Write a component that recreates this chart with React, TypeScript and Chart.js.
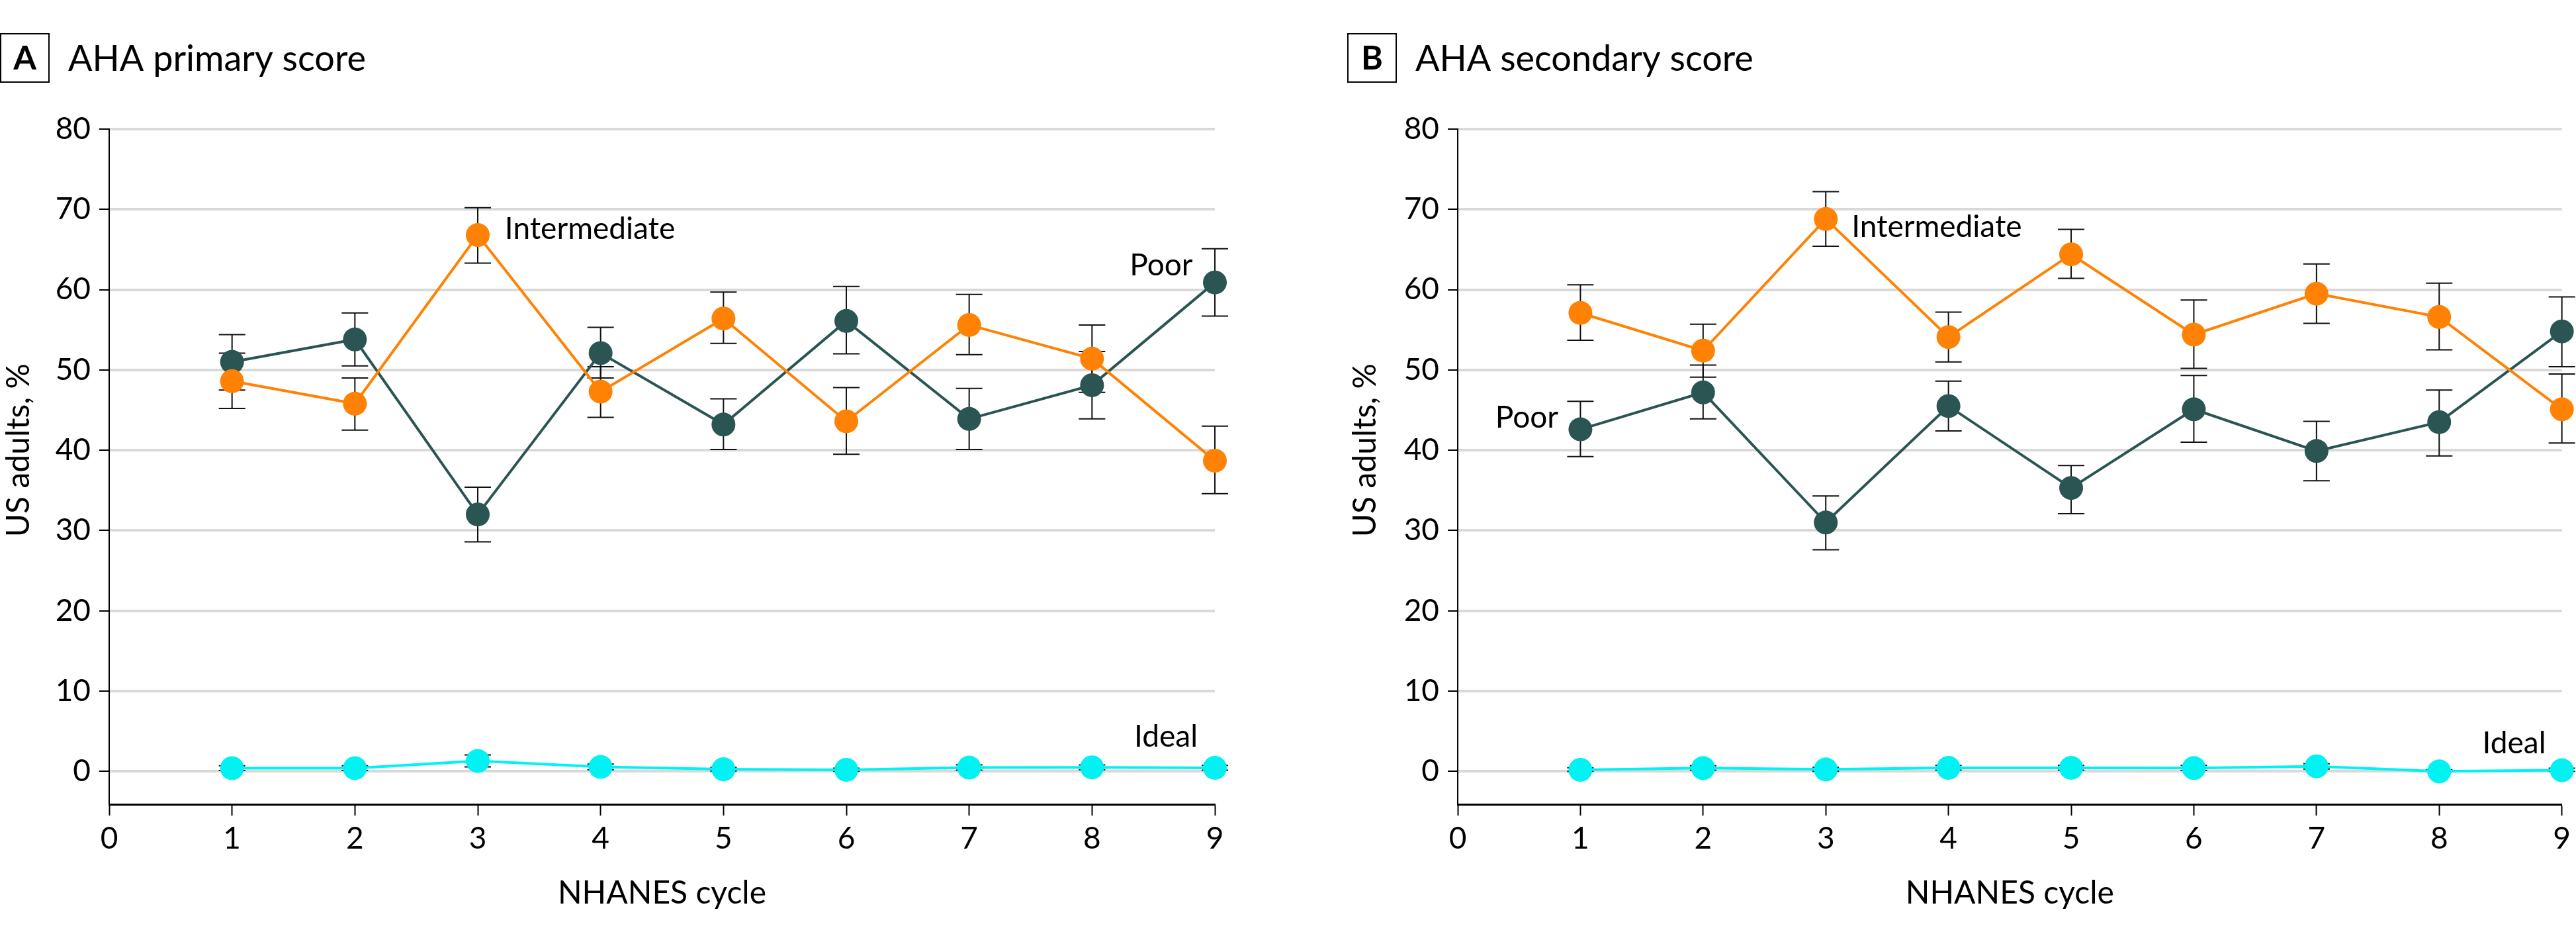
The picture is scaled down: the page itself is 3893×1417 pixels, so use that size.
import React, { useEffect, useRef } from 'react';
import { Chart, registerables } from 'chart.js';

Chart.register(...registerables);

// ---------- data ----------
const cycles = [1, 2, 3, 4, 5, 6, 7, 8, 9];
const xTickValues = [0, 1, 2, 3, 4, 5, 6, 7, 8, 9];
const yTickValues = [0, 10, 20, 30, 40, 50, 60, 70, 80];

// Panel A: AHA primary score
const poorA = [51.0, 53.8, 32.0, 52.1, 43.2, 56.1, 43.9, 48.1, 60.9];
const poorALo = [47.5, 50.5, 28.6, 49.0, 40.1, 52.0, 40.1, 43.9, 56.7];
const poorAHi = [54.4, 57.1, 35.4, 55.3, 46.4, 60.4, 47.7, 52.3, 65.1];
const interA = [48.6, 45.8, 66.8, 47.3, 56.4, 43.6, 55.6, 51.4, 38.7];
const interALo = [45.2, 42.5, 63.3, 44.1, 53.3, 39.5, 51.9, 47.2, 34.6];
const interAHi = [52.1, 49.0, 70.2, 50.4, 59.7, 47.8, 59.4, 55.6, 43.0];
const idealA = [0.4, 0.4, 1.3, 0.55, 0.27, 0.19, 0.47, 0.5, 0.44];
const idealALo = [0.1, 0.1, 0.55, 0.2, 0.05, 0.0, 0.15, 0.2, 0.15];
const idealAHi = [0.7, 0.7, 2.05, 0.9, 0.5, 0.4, 0.8, 0.8, 0.75];

// Panel B: AHA secondary score
const poorB = [42.6, 47.2, 31.0, 45.5, 35.3, 45.1, 39.9, 43.5, 54.8];
const poorBLo = [39.2, 43.9, 27.6, 42.4, 32.1, 41.0, 36.2, 39.3, 50.4];
const poorBHi = [46.1, 50.6, 34.3, 48.6, 38.1, 49.3, 43.6, 47.5, 59.1];
const interB = [57.1, 52.4, 68.8, 54.1, 64.4, 54.4, 59.5, 56.6, 45.1];
const interBLo = [53.7, 49.1, 65.4, 51.0, 61.4, 50.2, 55.8, 52.5, 40.9];
const interBHi = [60.6, 55.7, 72.2, 57.2, 67.5, 58.7, 63.2, 60.8, 49.5];
const idealB = [0.19, 0.41, 0.24, 0.44, 0.44, 0.41, 0.63, 0.0, 0.14];
const idealBLo = [0.0, 0.15, 0.0, 0.15, 0.15, 0.1, 0.3, 0.0, 0.0];
const idealBHi = [0.45, 0.7, 0.5, 0.75, 0.75, 0.75, 0.95, 0.2, 0.4];

// series labels (text, x, y in data units, alignment)
const labelsA = [
  { text: 'Intermediate', x: 3.22, y: 67.5, align: 'left' },
  { text: 'Poor', x: 8.82, y: 63.0, align: 'right' },
  { text: 'Ideal', x: 8.86, y: 4.3, align: 'right' },
];
const labelsB = [
  { text: 'Intermediate', x: 3.21, y: 67.8, align: 'left' },
  { text: 'Poor', x: 0.82, y: 44.0, align: 'right' },
  { text: 'Ideal', x: 8.87, y: 3.5, align: 'right' },
];

const COLOR_POOR = '#2a5553';
const COLOR_INTER = '#ff8204';
const COLOR_IDEAL = '#00f2f2';
const FONT = 'Lato, "Open Sans", "Noto Sans", sans-serif';

const H = 1417;

function makeDataset(label: string, vals: number[], lo: number[], hi: number[], color: string) {
  return {
    label,
    data: cycles.map((c, i) => ({ x: c, y: vals[i] })),
    errLo: lo,
    errHi: hi,
    borderColor: color,
    backgroundColor: color,
    pointBackgroundColor: color,
    pointBorderColor: color,
    pointRadius: 18,
    pointBorderWidth: 0,
    borderWidth: 4,
    tension: 0,
    clip: false,
  };
}

const errorBarPlugin = {
  id: 'errorBars',
  beforeDatasetsDraw(chart: any) {
    const ctx = chart.ctx;
    const xs = chart.scales.x;
    const ys = chart.scales.y;
    ctx.save();
    ctx.strokeStyle = '#111';
    ctx.lineWidth = 2;
    chart.data.datasets.forEach((ds: any) => {
      if (!ds.errLo) return;
      cycles.forEach((c, i) => {
        const x = xs.getPixelForValue(c);
        const y1 = ys.getPixelForValue(ds.errLo[i]);
        const y2 = ys.getPixelForValue(ds.errHi[i]);
        ctx.beginPath();
        ctx.moveTo(x, y1);
        ctx.lineTo(x, y2);
        ctx.moveTo(x - 20, y1);
        ctx.lineTo(x + 20, y1);
        ctx.moveTo(x - 20, y2);
        ctx.lineTo(x + 20, y2);
        ctx.stroke();
      });
    });
    ctx.restore();
  },
};

const decorPlugin = {
  id: 'decor',
  afterDraw(chart: any) {
    const o = chart.options.plugins.decor;
    const ctx = chart.ctx;
    const xs = chart.scales.x;
    const ys = chart.scales.y;
    ctx.save();
    // panel letter box
    ctx.strokeStyle = '#000';
    ctx.lineWidth = 2;
    ctx.strokeRect(1, 51, 73, 73);
    ctx.fillStyle = '#000';
    ctx.textAlign = 'center';
    ctx.textBaseline = 'alphabetic';
    ctx.font = `bold 50px ${FONT}`;
    ctx.fillText(o.letter, 37.5, 105);
    // panel title
    ctx.textAlign = 'left';
    ctx.font = `54px ${FONT}`;
    ctx.fillText(o.title, 103, 107);
    // y axis title
    ctx.save();
    ctx.font = `48px ${FONT}`;
    ctx.textAlign = 'center';
    ctx.textBaseline = 'middle';
    const yMid = (ys.getPixelForValue(0) + ys.getPixelForValue(80)) / 2;
    ctx.translate(o.yTitleX, yMid);
    ctx.rotate(-Math.PI / 2);
    ctx.fillText('US adults, %', 0, 0);
    ctx.restore();
    // x axis title
    ctx.font = `48px ${FONT}`;
    ctx.textAlign = 'center';
    ctx.textBaseline = 'middle';
    ctx.fillText('NHANES cycle', (xs.left + xs.right) / 2, 1350);
    // series labels
    ctx.font = `46px ${FONT}`;
    o.labels.forEach((l: any) => {
      ctx.textAlign = l.align;
      ctx.textBaseline = 'middle';
      ctx.fillText(l.text, xs.getPixelForValue(l.x), ys.getPixelForValue(l.y));
    });
    ctx.restore();
  },
};

type PanelProps = {
  left: number;
  width: number;
  yAxisWidth: number;
  padRight: number;
  letter: string;
  title: string;
  yTitleX: number;
  datasets: any[];
  labels: any[];
};

function Panel(p: PanelProps) {
  const ref = useRef<HTMLCanvasElement | null>(null);
  useEffect(() => {
    if (!ref.current) return;
    const chart = new Chart(ref.current, {
      type: 'line',
      data: { datasets: p.datasets },
      plugins: [errorBarPlugin, decorPlugin],
      options: {
        responsive: false,
        animation: false,
        layout: { padding: { top: 195, left: 0, right: p.padRight, bottom: 0 } },
        plugins: {
          legend: { display: false },
          tooltip: { enabled: false },
          decor: { letter: p.letter, title: p.title, labels: p.labels, yTitleX: p.yTitleX },
        } as any,
        scales: {
          x: {
            type: 'linear',
            min: 0,
            max: 9,
            afterBuildTicks: (s: any) => {
              s.ticks = xTickValues.map((v) => ({ value: v }));
            },
            afterFit: (s: any) => {
              s.height = H - 1215;
            },
            grid: {
              drawOnChartArea: false,
              drawTicks: true,
              tickLength: 17,
              tickColor: '#000',
              tickWidth: 2,
            },
            border: { display: true, color: '#000', width: 3 },
            ticks: {
              color: '#000',
              font: { family: FONT, size: 46 },
              padding: 8,
              maxRotation: 0,
              autoSkip: false,
            },
          },
          y: {
            type: 'linear',
            min: -4.1,
            max: 80,
            afterBuildTicks: (s: any) => {
              s.ticks = yTickValues.map((v) => ({ value: v }));
            },
            afterFit: (s: any) => {
              s.width = p.yAxisWidth;
            },
            grid: {
              color: '#d9d9d9',
              lineWidth: 4,
              drawTicks: true,
              tickLength: 15,
              tickColor: '#000',
              tickWidth: 2,
            },
            border: { display: true, color: '#000', width: 2 },
            ticks: {
              color: '#000',
              font: { family: FONT, size: 46 },
              padding: 13,
              autoSkip: false,
            },
          },
        },
      } as any,
    });
    return () => chart.destroy();
  }, []);
  return (
    <canvas
      ref={ref}
      width={p.width}
      height={H}
      style={{ position: 'absolute', left: p.left, top: 0, width: p.width, height: H, display: 'block' }}
    />
  );
}

export default function App() {
  useEffect(() => {
    document.body.style.margin = '0';
  }, []);
  const dsA = [
    makeDataset('Ideal', idealA, idealALo, idealAHi, COLOR_IDEAL),
    makeDataset('Intermediate', interA, interALo, interAHi, COLOR_INTER),
    makeDataset('Poor', poorA, poorALo, poorAHi, COLOR_POOR),
  ];
  const dsB = [
    makeDataset('Ideal', idealB, idealBLo, idealBHi, COLOR_IDEAL),
    makeDataset('Intermediate', interB, interBLo, interBHi, COLOR_INTER),
    makeDataset('Poor', poorB, poorBLo, poorBHi, COLOR_POOR),
  ];
  return (
    <div style={{ position: 'fixed', left: 0, top: 0, width: 3893, height: H, background: '#fff', overflow: 'hidden' }}>
      <Panel left={0} width={2036} yAxisWidth={165} padRight={200} letter="A" title="AHA primary score" yTitleX={29} datasets={dsA} labels={labelsA} />
      <Panel left={2036} width={3893 - 2036} yAxisWidth={167} padRight={14} letter="B" title="AHA secondary score" yTitleX={28} datasets={dsB} labels={labelsB} />
    </div>
  );
}
